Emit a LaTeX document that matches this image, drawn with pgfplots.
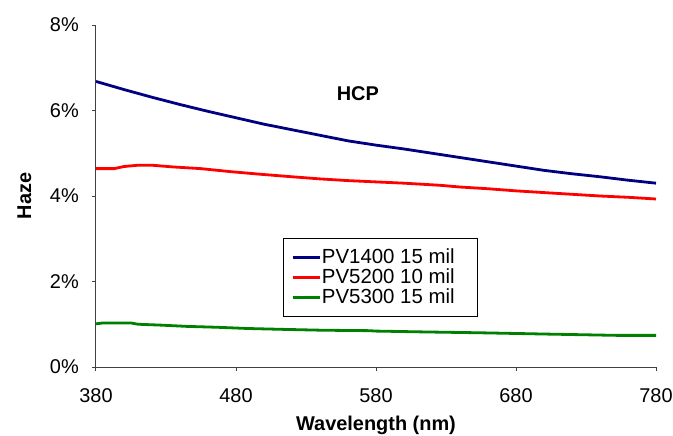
\documentclass[border=0pt]{standalone}
\usepackage{pgfplots}
\pgfplotsset{compat=1.18}
\usepackage{fontspec}
\setmainfont{Liberation Sans}
\definecolor{navyb}{RGB}{0,0,128}
\definecolor{redl}{RGB}{255,0,0}
\definecolor{greenl}{RGB}{0,128,0}
\newcommand{\tf}{\fontsize{20}{24}\selectfont}
\newcommand{\lf}{\fontsize{20.5}{24}\selectfont}
\begin{document}
\begin{tikzpicture}
\useasboundingbox (-96bp,-69bp) rectangle (577bp,367bp);
\begin{axis}[
  scale only axis, width=560bp, height=342bp,
  at={(0,0)}, anchor=south west,
  xmin=380, xmax=780, ymin=0, ymax=8,
  axis lines=left, axis line style={-, black!75, line width=1bp},
  xtick={380,480,580,680,780},
  xticklabels={380,480,580,680,780},
  ytick={0,2,4,6,8},
  yticklabels={0\%,2\%,4\%,6\%,8\%},
  tick align=outside, major tick length=4bp,
  tick style={black!75, line width=1bp},
  xticklabel style={font=\tf, inner sep=0pt, anchor=north, text height=14bp, text depth=0bp, yshift=-17bp},
  yticklabel style={font=\tf, inner sep=0pt, anchor=east, xshift=-13bp},
  xlabel={Wavelength (nm)}, ylabel={Haze},
  xlabel style={font=\tf\bfseries, at={(axis description cs:0.5,-0.172)}, anchor=center},
  ylabel style={font=\tf\bfseries, at={(axis description cs:-0.128,0.5)}, anchor=center, rotate=0},
  legend style={draw=black, line width=0.8bp, at={(0.3334,0.377)}, anchor=north west,
    font=\lf, inner xsep=8bp, inner ysep=9bp,
    nodes={inner xsep=1bp, inner ysep=0bp, text height=16bp, text depth=4bp}, row sep=0bp},
  legend cell align=left,
  legend image code/.code={\draw[#1] (0bp,0bp) -- (27bp,0bp);},
]
\addplot[navyb, line width=2.8bp] coordinates {(380,6.68) (400,6.49) (420,6.31) (440,6.14) (460,5.98) (480,5.83) (500,5.68) (520,5.55) (540,5.42) (560,5.29) (580,5.19) (600,5.10) (620,5.00) (640,4.90) (660,4.80) (680,4.70) (700,4.60) (720,4.52) (740,4.45) (760,4.37) (780,4.30)};
\addlegendentry{PV1400 15 mil\rule{14bp}{0pt}}
\addplot[redl, line width=2.8bp] coordinates {(380,4.64) (393,4.64) (400,4.69) (410,4.72) (420,4.72) (435,4.68) (455,4.64) (476,4.57) (497,4.51) (520,4.45) (540,4.40) (560,4.36) (580,4.33) (600,4.30) (626,4.25) (640,4.21) (660,4.17) (680,4.12) (700,4.08) (720,4.04) (740,4.00) (760,3.97) (780,3.93)};
\addlegendentry{PV5200 10 mil\rule{14bp}{0pt}}
\addplot[greenl, line width=2.8bp] coordinates {(380,1.01) (385,1.03) (405,1.03) (410,1.00) (426,0.98) (445,0.95) (466,0.93) (489,0.90) (514,0.88) (542,0.86) (575,0.85) (580,0.84) (615,0.82) (655,0.80) (702,0.77) (752,0.74) (780,0.74)};
\addlegendentry{PV5300 15 mil\rule{14bp}{0pt}}
\node[font=\tf\bfseries] at (axis cs:567,6.4) {HCP};
\end{axis}
\end{tikzpicture}
\end{document}
